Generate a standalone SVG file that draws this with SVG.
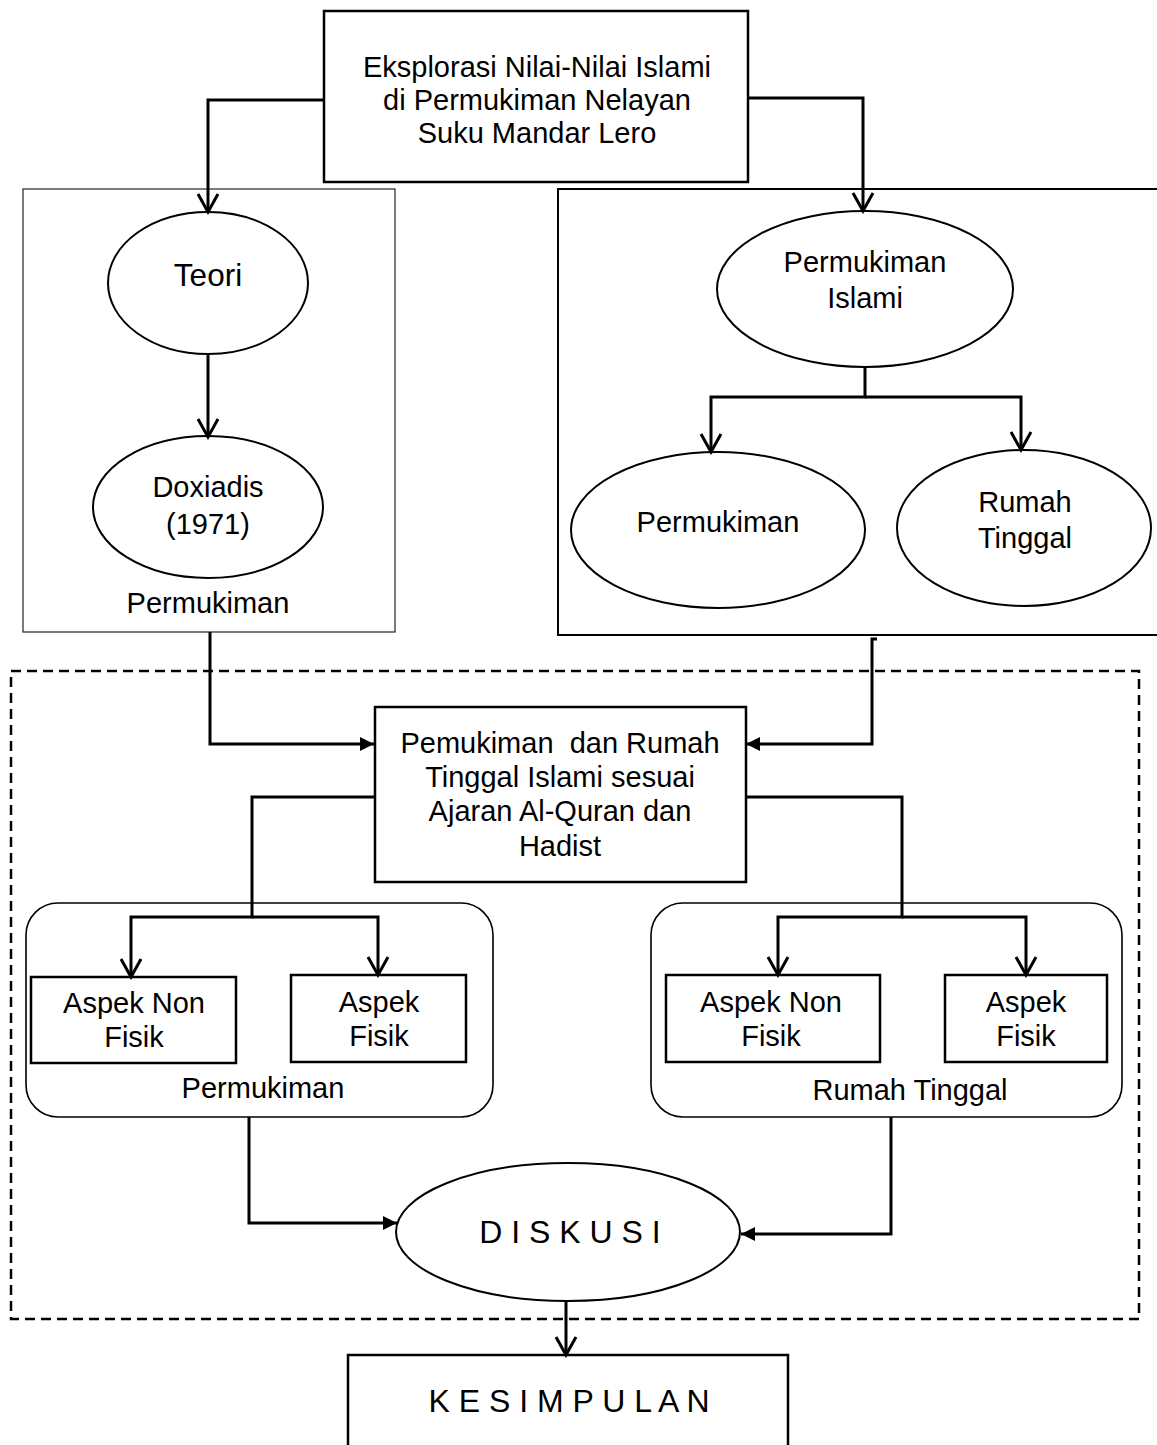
<svg xmlns="http://www.w3.org/2000/svg" width="1157" height="1445" viewBox="0 0 1157 1445">
<defs>
<style>
text{font-family:"Liberation Sans",Arial,sans-serif;font-size:29px;fill:#000;text-anchor:middle}
.big{font-size:31.5px}
.sp{font-size:32px}
.box{fill:#fff;stroke:#000;stroke-width:2.5}
.thin{fill:#fff;stroke:#222;stroke-width:1.2}
.ell{fill:#fff;stroke:#000;stroke-width:2}
.grp{fill:none;stroke:#000;stroke-width:1.6}
.dash{fill:none;stroke:#000;stroke-width:2.5;stroke-dasharray:10 6}
.c{fill:none;stroke:#000;stroke-width:3}
.o{marker-end:url(#open)}
.f{marker-end:url(#fill)}
</style>
<marker id="open" viewBox="-3 -14 24 28" refX="18" refY="0" markerWidth="24" markerHeight="28" markerUnits="userSpaceOnUse" orient="auto">
<path d="M0,-10 L18,0 L0,10" fill="none" stroke="#000" stroke-width="3"/>
</marker>
<marker id="fill" viewBox="0 -8 15 16" refX="14" refY="0" markerWidth="15" markerHeight="16" markerUnits="userSpaceOnUse" orient="auto">
<path d="M0,-7 L14,0 L0,7 z" fill="#000"/>
</marker>
</defs>
<rect x="0" y="0" width="1157" height="1445" fill="#fff"/>

<g id="frame-dashed"><rect class="dash" x="11" y="671" width="1128" height="648"/></g>

<g id="box-left-teori"><rect class="thin" x="23" y="189" width="372" height="443"/><text x="208" y="613">Permukiman</text></g>
<g id="box-right-islami"><rect x="558" y="189" width="620" height="446" fill="#fff" stroke="#000" stroke-width="2"/></g>

<g id="n-top"><rect class="box" x="324" y="11" width="424" height="171" stroke-width="3"/>
<text x="537" y="77">Eksplorasi Nilai-Nilai Islami</text>
<text x="537" y="110">di Permukiman Nelayan</text>
<text x="537" y="143">Suku Mandar Lero</text></g>

<g id="n-teori"><ellipse class="ell" cx="208" cy="283" rx="100" ry="71"/><text class="big" x="208" y="286">Teori</text></g>
<g id="n-doxiadis"><ellipse class="ell" cx="208" cy="507" rx="115" ry="71"/><text x="208" y="497">Doxiadis</text><text x="208" y="534">(1971)</text></g>

<g id="n-permukiman-islami"><ellipse class="ell" cx="865" cy="289" rx="148" ry="78"/><text x="865" y="272">Permukiman</text><text x="865" y="308">Islami</text></g>
<g id="n-permukiman"><ellipse class="ell" cx="718" cy="530" rx="147" ry="78"/><text x="718" y="532">Permukiman</text></g>
<g id="n-rumah-tinggal"><ellipse class="ell" cx="1024" cy="528" rx="127" ry="78"/><text x="1025" y="512">Rumah</text><text x="1025" y="548">Tinggal</text></g>

<g id="n-pemukiman-rumah"><rect class="box" x="375" y="707" width="371" height="175"/>
<text x="560" y="753" xml:space="preserve">Pemukiman  dan Rumah</text>
<text x="560" y="787">Tinggal Islami sesuai</text>
<text x="560" y="821">Ajaran Al-Quran dan</text>
<text x="560" y="856">Hadist</text></g>

<g id="g-permukiman"><rect class="grp" x="26" y="903" width="467" height="214" rx="32"/><text x="263" y="1098">Permukiman</text></g>
<g id="g-rumah"><rect class="grp" x="651" y="903" width="471" height="214" rx="32"/><text x="910" y="1100">Rumah Tinggal</text></g>

<g id="n-p-nonfisik"><rect class="box" x="31" y="977" width="205" height="86"/><text x="134" y="1013">Aspek Non</text><text x="134" y="1047">Fisik</text></g>
<g id="n-p-fisik"><rect class="box" x="291" y="975" width="175" height="87"/><text x="379" y="1012">Aspek</text><text x="379" y="1046">Fisik</text></g>
<g id="n-r-nonfisik"><rect class="box" x="666" y="975" width="214" height="87"/><text x="771" y="1012">Aspek Non</text><text x="771" y="1046">Fisik</text></g>
<g id="n-r-fisik"><rect class="box" x="945" y="975" width="162" height="87"/><text x="1026" y="1012">Aspek</text><text x="1026" y="1046">Fisik</text></g>

<g id="n-diskusi"><ellipse class="ell" cx="568" cy="1232" rx="172" ry="69" stroke-width="1.8"/><text class="sp" x="570" y="1243">D I S K U S I</text></g>
<g id="n-kesimpulan"><rect class="box" x="348" y="1355" width="440" height="110"/><text class="sp" x="569" y="1412">K E S I M P U L A N</text></g>

<g id="connectors">
<path class="c o" d="M324,100 H208 V212"/>
<path class="c o" d="M748,98 H863 V211"/>
<path class="c o" d="M208,355 V437"/>
<path class="c o" d="M865,367 V397 H711 V452"/>
<path class="c o" d="M865,397 H1021 V450"/>
<path class="c f" d="M210,632 V744 H374"/>
<path class="c f" d="M877,639 H872 V744 H746"/>
<path class="c o" d="M375,797 H252 V917 H131 V977"/>
<path class="c o" d="M252,917 H378 V975"/>
<path class="c o" d="M746,797 H902 V917 H778 V975"/>
<path class="c o" d="M902,917 H1026 V975"/>
<path class="c f" d="M249,1117 V1223 H397"/>
<path class="c f" d="M891,1117 V1234 H741"/>
<path class="c o" d="M566,1301 V1355"/>
</g>
</svg>
